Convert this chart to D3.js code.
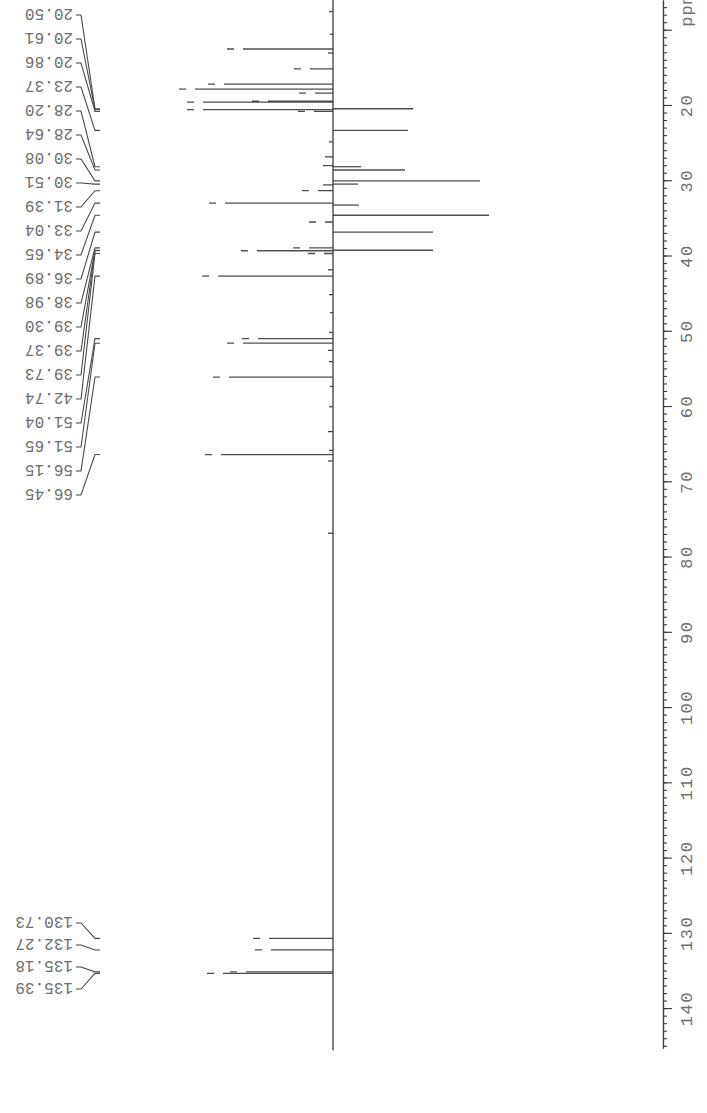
<!DOCTYPE html>
<html>
<head>
<meta charset="utf-8">
<script src="https://cdn.jsdelivr.net/npm/d3@7"></script>
<style>
  body { margin: 0; background: #fff; }
  svg { display: block; }
</style>
</head>
<body>
<svg id="spec" width="707" height="1113"></svg>
<script>
// DEPT-135 13C spectrum, printed turned on its side:
// chemical shift runs down the page, positive (CH/CH3) peaks point left,
// negative (CH2) peaks point right.

// Peak positions (ppm) and signed heights (arbitrary units)
const peakShifts  = [12.56, 15.21, 17.22, 17.89, 18.42, 19.50, 19.63, 20.50, 20.61, 20.86,
                     23.37, 26.90, 28.05, 28.20, 28.64, 30.08, 30.51, 30.62, 31.39, 33.04,
                     33.30, 34.65, 35.55, 36.89, 38.98, 39.30, 39.37, 39.73, 42.74, 51.04,
                     51.65, 56.15, 66.45, 130.73, 132.27, 135.18, 135.39];
const peakHeights = [106, 39, 125, 154, 34, 81, 146, -80, 146, 35,
                     -75, 8, 10, -28, -72, -147, -25, 10, 31, 124,
                     -26, -156, 24, -100, 40, -100, 92, 25, 131, 91,
                     106, 120, 128, 80, 78, 103, 126];

// Small baseline blips
const noiseShifts  = [7.6, 10.6, 13.1, 24.9, 41.9, 45.2, 47.6, 50.2, 52.6, 54.1, 57.4, 60.1, 63.4, 65.9, 67.3, 76.9];
const noiseHeights = [4, 3, 5, 4, 5, 4, 3, 4, 5, 4, 3, 4, 5, 4, 5, 5];

// Printed peak labels, in two blocks
const labelsAliphatic = ["20.50","20.61","20.86","23.37","28.20","28.64","30.08","30.51","31.39","33.04",
                         "34.65","36.89","38.98","39.30","39.37","39.73","42.74","51.04","51.65","56.15","66.45"];
const labelsAromatic  = ["130.73","132.27","135.18","135.39"];

// Axis ticks
const majorTicks = [10, 20, 30, 40, 50, 60, 70, 80, 90, 100, 110, 120, 130, 140];
const minorTicks = d3.range(7, 146);
const axisUnit = "ppm";

const svg = d3.select("#spec");
const ink = "#3a3a3a";
const textInk = "#6e6e6e";

// chemical shift -> vertical position
const y = d3.scaleLinear().domain([6.05, 145.3]).range([0, 1048]);
// signed intensity -> horizontal position (positive goes left)
const x = d3.scaleLinear().domain([0, 140]).range([333, 193]);

// ---- baseline ----
svg.append("line")
  .attr("x1", x(0)).attr("x2", x(0))
  .attr("y1", y(6.05)).attr("y2", y(145.6))
  .attr("stroke", ink).attr("stroke-width", 1.3);

// ---- noise blips ----
svg.append("g").selectAll("line")
  .data(noiseShifts.map((s, i) => ({ s, h: noiseHeights[i] })))
  .join("line")
  .attr("x1", x(0)).attr("x2", d => x(d.h))
  .attr("y1", d => y(d.s)).attr("y2", d => y(d.s))
  .attr("stroke", ink).attr("stroke-width", 1.2);

// ---- peaks ----
const peaks = peakShifts.map((s, i) => ({ s, h: peakHeights[i] }));
svg.append("g").selectAll("line")
  .data(peaks)
  .join("line")
  .attr("x1", x(0)).attr("x2", d => x(d.h))
  .attr("y1", d => y(d.s)).attr("y2", d => y(d.s))
  .attr("stroke", ink)
  .attr("stroke-width", 1.3)
  .attr("stroke-opacity", 0.9)
  .attr("stroke-dasharray", d => {
    // the pen skips just short of the tip on upward peaks
    const len = Math.abs(x(d.h) - x(0));
    if (d.h <= 15) return null;
    return `${len - 16},9,7`;
  });

// ---- peak labels with leader lines ----
const labelRight = 73;
function drawLabels(labels, top, step) {
  const g = svg.append("g");
  labels.forEach((t, i) => {
    const ly = top + i * step;
    const py = y(+t);
    g.append("path")
      .attr("d", `M${labelRight + 3},${ly}H${labelRight + 8}L${95},${py}H${100}`)
      .attr("fill", "none").attr("stroke", "#4a4a4a").attr("stroke-width", 1.1);
    g.append("text")
      .attr("transform", `translate(${labelRight},${ly}) rotate(180)`)
      .attr("dy", "0.36em")
      .attr("font-family", "'Liberation Mono', monospace")
      .attr("font-size", 16)
      .attr("fill", textInk)
      .text(t);
  });
}
drawLabels(labelsAliphatic, 15, 24);
drawLabels(labelsAromatic, 923, 22);

// ---- ppm axis ----
const axisX = 663;
const minorAxis = d3.axisRight(y).tickValues(minorTicks).tickSize(4).tickSizeOuter(0).tickFormat("");
const majorAxis = d3.axisRight(y).tickValues(majorTicks).tickSize(9).tickSizeOuter(0)
  .tickFormat(d => d === 10 ? "" : d);

const gMinor = svg.append("g").attr("transform", `translate(${axisX},0)`).call(minorAxis);
const gMajor = svg.append("g").attr("transform", `translate(${axisX},0)`).call(majorAxis);
[gMinor, gMajor].forEach(g => {
  g.select(".domain").attr("stroke", ink).attr("stroke-width", 1.2);
  g.selectAll(".tick line").attr("stroke", ink).attr("stroke-width", 1.1);
});
gMajor.selectAll(".tick text")
  .attr("x", null).attr("dy", "0.36em")
  .attr("transform", "translate(23,0) rotate(-90)")
  .attr("text-anchor", "middle")
  .attr("font-family", "'Liberation Mono', monospace")
  .attr("font-size", 17)
  .attr("letter-spacing", 1.5)
  .attr("fill", textInk);

svg.append("text")
  .attr("transform", `translate(${axisX + 23},${y(10) - 3}) rotate(-90)`)
  .attr("dy", "0.36em")
  .attr("font-family", "'Liberation Mono', monospace")
  .attr("font-size", 17)
  .attr("letter-spacing", 1)
  .attr("fill", textInk)
  .text(axisUnit);
</script>
</body>
</html>
